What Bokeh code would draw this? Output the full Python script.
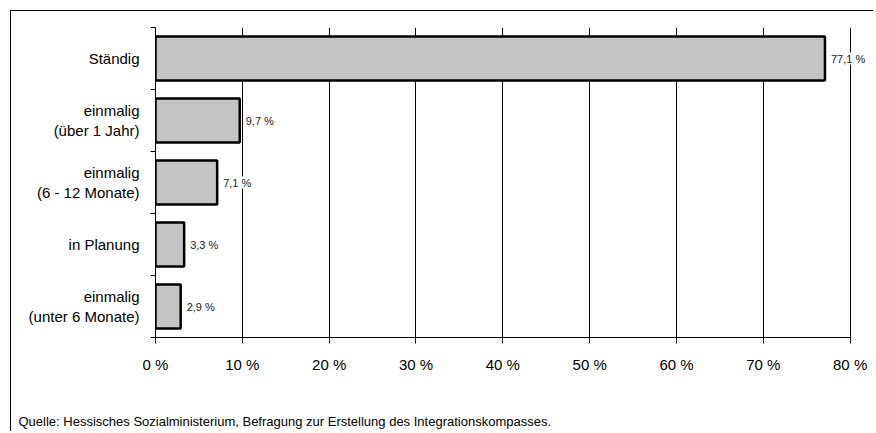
from bokeh.plotting import figure
from bokeh.models import FixedTicker, LabelSet, ColumnDataSource, Range1d, Title, LinearAxis
from bokeh.core.properties import value
from bokeh.embed import file_html
from bokeh.resources import INLINE

categories = ["Ständig", "einmalig\n(über 1 Jahr)", "einmalig\n(6 - 12 Monate)",
              "in Planung", "einmalig\n(unter 6 Monate)"]
values = [77.1, 9.7, 7.1, 3.3, 2.9]
x_ticks = [0, 10, 20, 30, 40, 50, 60, 70, 80]
x_tick_labels = ["0 %", "10 %", "20 %", "30 %", "40 %", "50 %", "60 %", "70 %", "80 %"]
source_note = "Quelle: Hessisches Sozialministerium, Befragung zur Erstellung des Integrationskompasses."

FONT = "Liberation Sans"
n = len(categories)
ypos = [n - i - 0.5 for i in range(n)]
value_labels = [f"{v:.1f}".replace(".", ",") + " %" for v in values]
src = ColumnDataSource(dict(y=ypos, v=values, lab=value_labels))
x_max = x_ticks[-1]

p = figure(width=863, height=421, x_range=Range1d(0, x_max + 2), y_range=Range1d(0, n),
           output_backend="svg", toolbar_location=None,
           min_border_left=144, min_border_right=7, min_border_top=16, min_border_bottom=95,
           margin=(10, 0, 0, 10))
p.styles = {"border-left": "1px solid black", "border-top": "1px solid black"}
p.background_fill_color = "white"
p.border_fill_color = "white"
p.outline_line_color = None

p.hbar(y="y", right="v", left=0, height=0.71, source=src,
       fill_color="#c4c4c4", line_color="black", line_width=2.5)

p.add_layout(LabelSet(x="v", y="y", text="lab", source=src, x_offset=6,
                      text_baseline="middle", text_font_size="11px", text_font=value(FONT),
                      text_color="#222222", background_fill_color="white"))

# x axis
p.xaxis.bounds = (0, x_max)
p.xaxis.ticker = FixedTicker(ticks=x_ticks)
p.xaxis.major_label_overrides = {t: l for t, l in zip(x_ticks, x_tick_labels)}
p.xaxis.major_tick_in = 0
p.xaxis.major_tick_out = 6
p.xaxis.minor_tick_line_color = None
p.xaxis.major_label_text_font = FONT
p.xaxis.major_label_text_font_size = "15px"
p.xaxis.major_label_text_color = "black"
p.xaxis.major_label_standoff = 12
p.xaxis.axis_line_color = "black"
p.xaxis.major_tick_line_color = "black"

# y axis (labels at centers, ticks at boundaries)
p.yaxis.ticker = FixedTicker(ticks=ypos, minor_ticks=list(range(n + 1)))
p.yaxis.major_label_overrides = {y: c for y, c in zip(ypos, categories)}
p.yaxis.major_tick_line_color = None
p.yaxis.major_tick_in = 0
p.yaxis.major_tick_out = 0
p.yaxis.minor_tick_in = 0
p.yaxis.minor_tick_out = 5
p.yaxis.minor_tick_line_color = "black"
p.yaxis.major_label_text_font = FONT
p.yaxis.major_label_text_font_size = "15px"
p.yaxis.major_label_text_color = "black"
p.yaxis.major_label_standoff = 11
p.yaxis.axis_line_color = "black"

# vertical gridlines, and top border line of the plot area
p.xgrid.ticker = FixedTicker(ticks=x_ticks)
p.xgrid.grid_line_color = "black"
p.xgrid.grid_line_width = 1
p.ygrid.ticker = FixedTicker(ticks=[n])
p.ygrid.bounds = (0, x_max)
p.ygrid.grid_line_color = "#808080"
p.ygrid.grid_line_width = 2

# invisible spacer between the axis and the source note
spacer = LinearAxis(ticker=FixedTicker(ticks=[x_max]), axis_line_color=None,
                    major_tick_line_color="white", minor_tick_line_color=None,
                    major_tick_in=0, major_tick_out=36, minor_tick_in=0, minor_tick_out=0,
                    major_label_standoff=0, major_label_text_color=None,
                    major_label_text_font_size="1px")
p.add_layout(spacer, "below")

p.add_layout(Title(text=source_note, align="left", offset=-137, standoff=0,
                   text_font=FONT, text_font_size="13px", text_font_style="normal",
                   text_color="black"), "below")

open("out.html", "w").write(file_html(p, INLINE))
